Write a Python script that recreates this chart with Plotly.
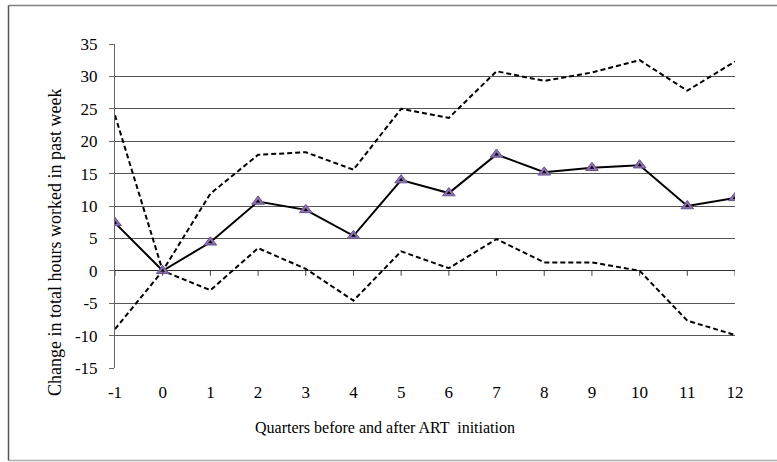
import plotly.graph_objects as go

quarters = [-1, 0, 1, 2, 3, 4, 5, 6, 7, 8, 9, 10, 11, 12]
mean_change = [7.4, 0, 4.4, 10.7, 9.4, 5.4, 14.0, 12.0, 17.95, 15.2, 15.9, 16.3, 10.0, 11.25]
upper_ci = [24.0, 0, 11.9, 17.9, 18.3, 15.6, 25.0, 23.6, 30.8, 29.3, 30.6, 32.5, 27.8, 32.3]
lower_ci = [-9.0, 0, -3.0, 3.5, 0.3, -4.6, 3.0, 0.4, 4.9, 1.3, 1.3, 0.0, -7.7, -9.9]
y_ticks = [-15, -10, -5, 0, 5, 10, 15, 20, 25, 30, 35]

FONT = "Liberation Serif, Times New Roman, serif"

L, T, PW, PH = 115, 44, 620, 324
W, H = 777, 462

fig = go.Figure()
fig.add_trace(go.Scatter(x=quarters, y=upper_ci, mode="lines",
                         line=dict(color="black", width=2, dash="5px,3px"), showlegend=False))
fig.add_trace(go.Scatter(x=quarters, y=lower_ci, mode="lines",
                         line=dict(color="black", width=2, dash="5px,3px"), showlegend=False))
fig.add_trace(go.Scatter(x=quarters, y=mean_change, mode="lines+markers",
                         line=dict(color="black", width=2),
                         marker=dict(symbol="triangle-up", size=11, color="#8a70b0",
                                     line=dict(color="#6a5590", width=1)),
                         showlegend=False))
fig.add_trace(go.Scatter(x=quarters, y=mean_change, mode="markers",
                         marker=dict(symbol="triangle-up", size=4, color="black"),
                         showlegend=False))

def px_x(px):
    return (px - L) / PW

def px_y(py):
    return (T + PH - py) / PH

shapes = [
    dict(type="line", xref="paper", yref="paper", x0=px_x(8.5), x1=px_x(800),
         y0=px_y(5.5), y1=px_y(5.5), line=dict(color="#808080", width=1.5), layer="below"),
    dict(type="line", xref="paper", yref="paper", x0=px_x(8.5), x1=px_x(800),
         y0=px_y(460.5), y1=px_y(460.5), line=dict(color="#b0b0b0", width=1.5), layer="below"),
    dict(type="line", xref="paper", yref="paper", x0=px_x(8.5), x1=px_x(8.5),
         y0=px_y(5.5), y1=px_y(460.5), line=dict(color="#555", width=1.5), layer="below"),
]
for q in quarters:
    shapes.append(dict(type="line", xref="x", yref="y", ysizemode="pixel", yanchor=0,
                       x0=q, x1=q, y0=0, y1=-5, line=dict(color="#444", width=1)))

fig.update_layout(
    width=W, height=H,
    margin=dict(l=L, r=W - L - PW, t=T, b=H - T - PH),
    paper_bgcolor="white", plot_bgcolor="white",
    font=dict(family=FONT, size=17, color="black"),
    shapes=shapes,
    xaxis=dict(range=[-1, 12], tickmode="array", tickvals=quarters,
               ticktext=[str(q) for q in quarters],
               showgrid=False, zeroline=False, showline=False,
               ticks="outside", ticklen=9, tickcolor="rgba(0,0,0,0)",
               tickfont=dict(size=17, family=FONT)),
    yaxis=dict(range=[-15, 35], tickmode="array", tickvals=y_ticks,
               ticktext=[str(v) for v in y_ticks],
               showgrid=True, gridcolor="#555", gridwidth=1,
               zeroline=True, zerolinecolor="#333", zerolinewidth=1,
               showline=True, linecolor="#666", linewidth=1,
               ticks="outside", ticklen=5, tickcolor="#666",
               ticklabelstandoff=8,
               tickfont=dict(size=17, family=FONT)),
    annotations=[
        dict(text="Quarters before and after ART  initiation", xref="paper", yref="paper",
             x=px_x(385), y=px_y(427), showarrow=False,
             xanchor="center", yanchor="middle", font=dict(size=16, family=FONT)),
        dict(text="Change in total hours worked in past week", xref="paper", yref="paper",
             x=px_x(55), y=px_y(243), showarrow=False, textangle=-90,
             xanchor="center", yanchor="middle", font=dict(size=18, family=FONT)),
    ],
)

fig.write_html(
    "out.html",
    config={"displayModeBar": False},
    post_script="document.body.style.margin='0';document.documentElement.style.overflow='hidden';document.body.style.overflow='hidden';",
)
